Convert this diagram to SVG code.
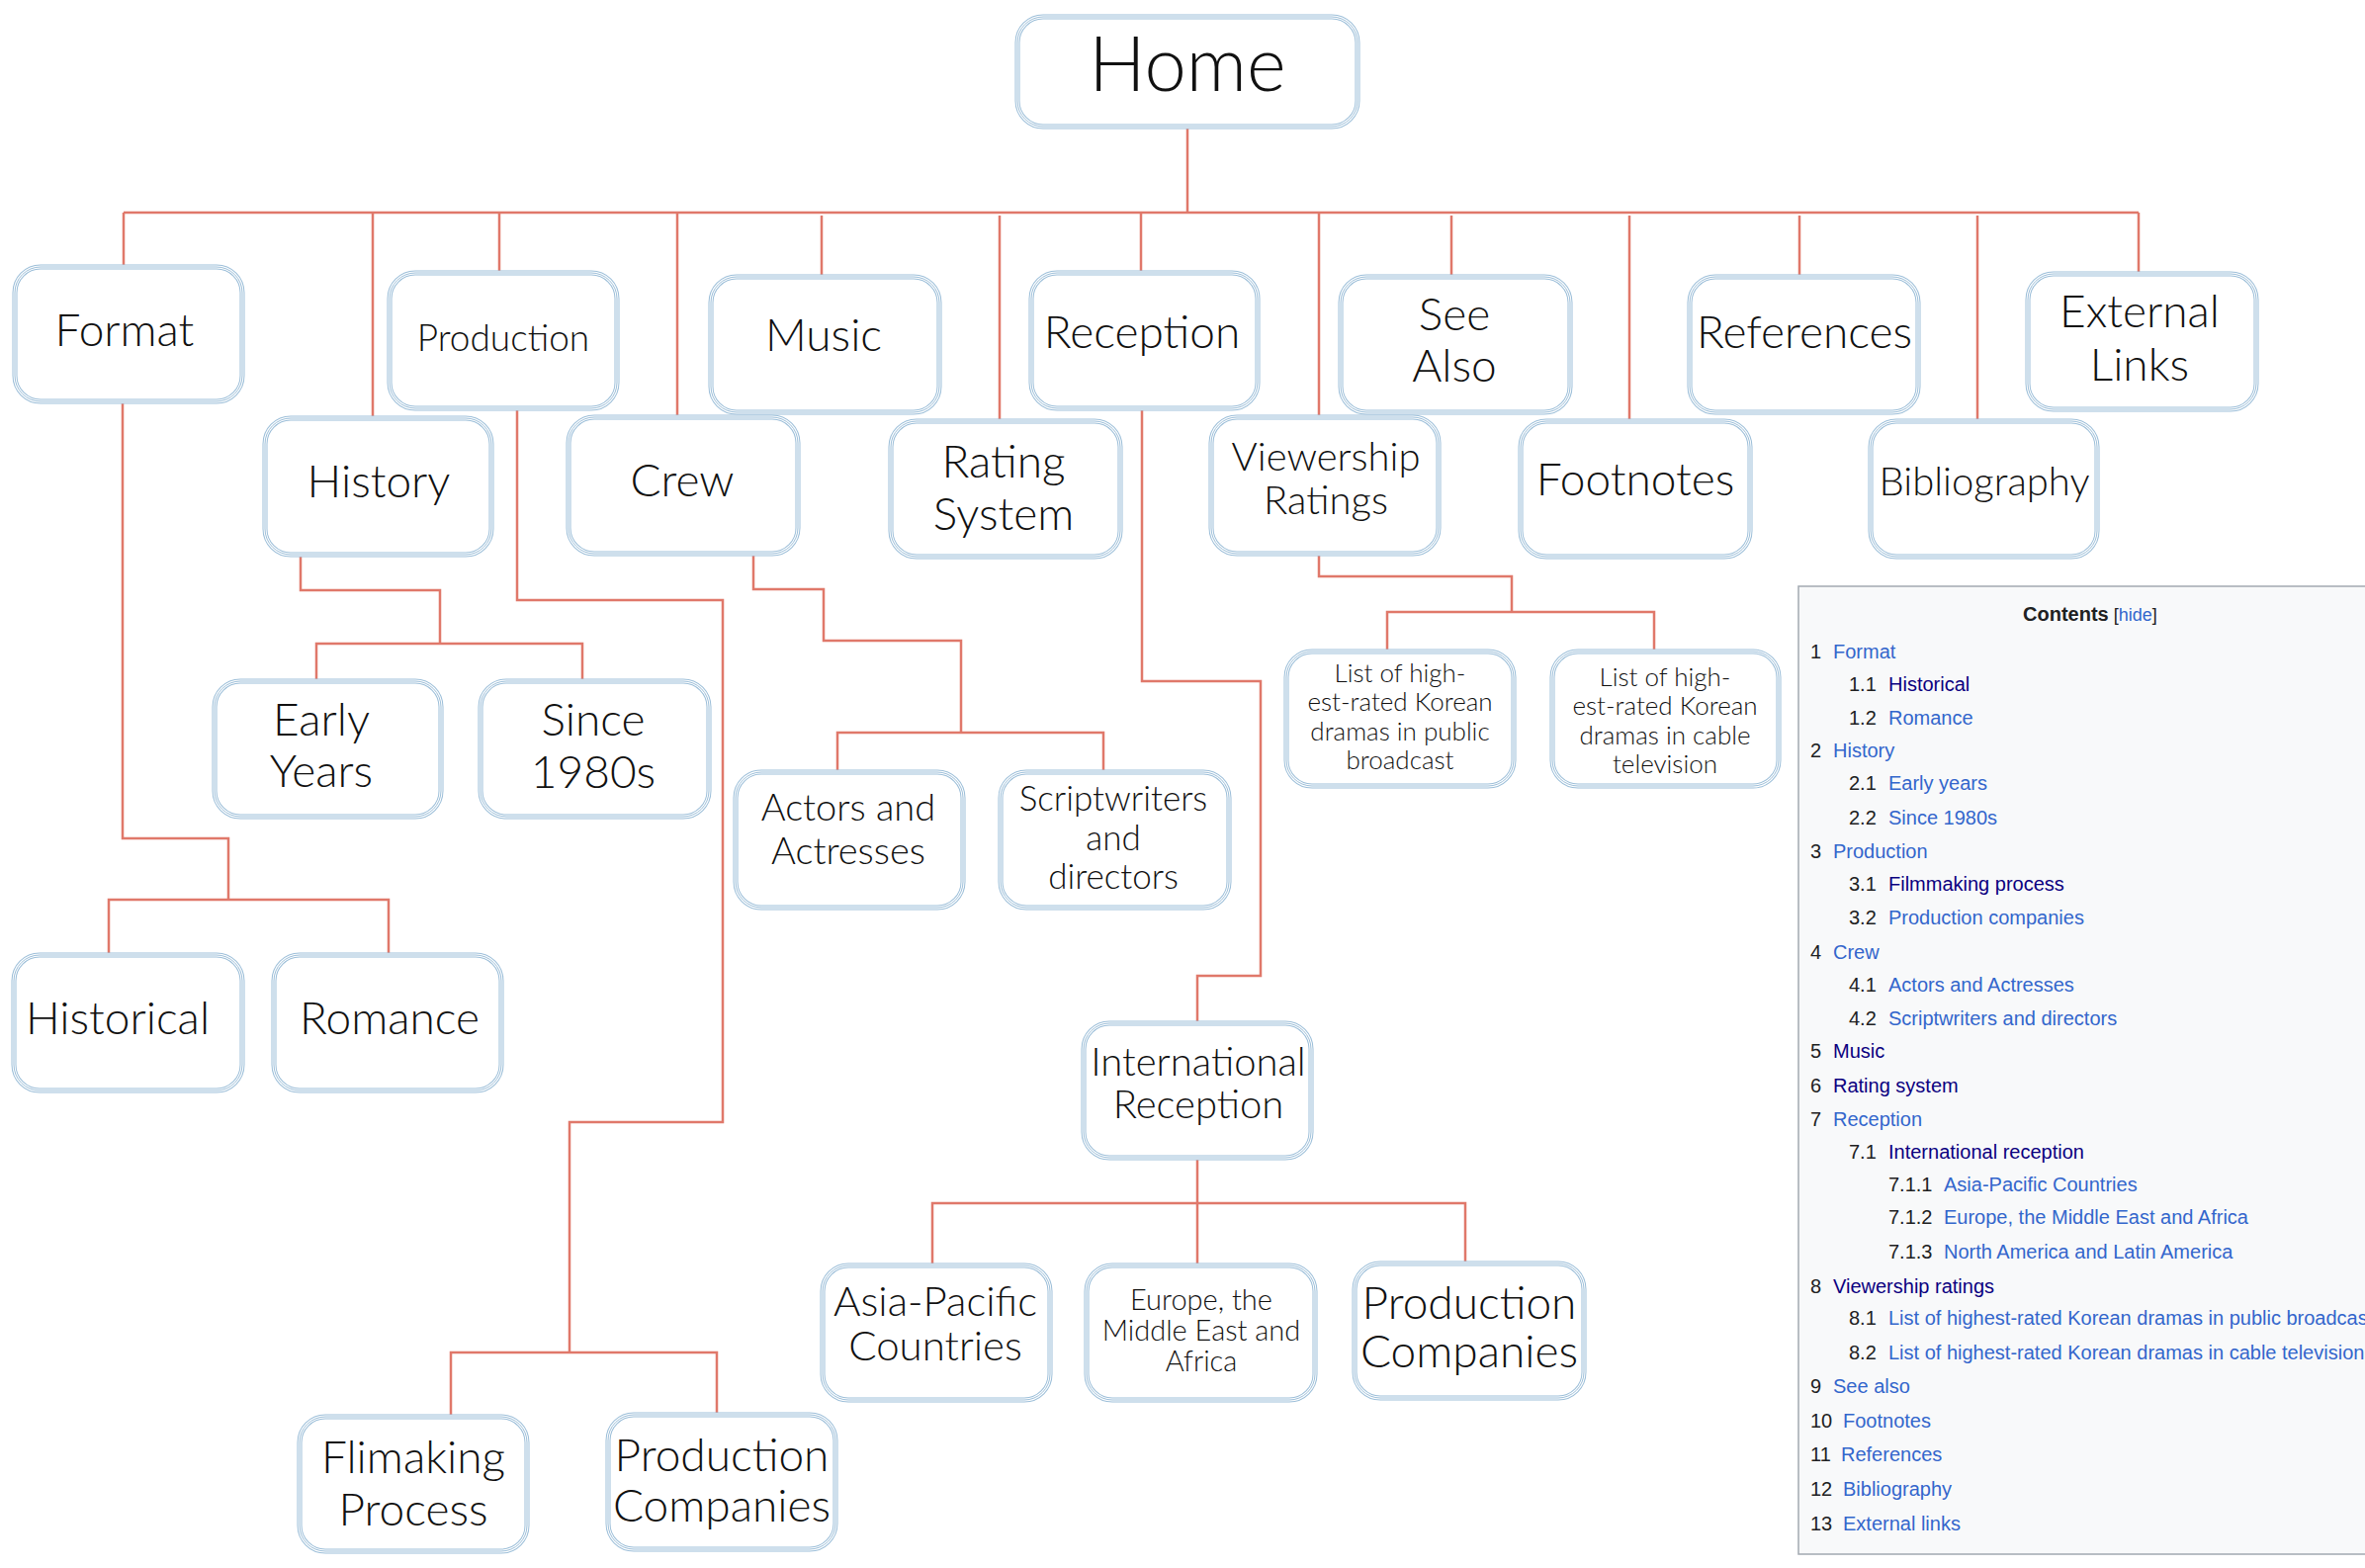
<svg xmlns="http://www.w3.org/2000/svg" width="2392" height="1586" viewBox="0 0 2392 1586">
<defs>
<style>
.b1{fill:#fff;stroke:#9dbfd9;stroke-width:5}
.b2{fill:none;stroke:#fff;stroke-width:3}
.b3{fill:none;stroke:#9dbfd9;stroke-width:1}
.t{font-family:"Lato Light",Lato,"Liberation Sans",sans-serif;font-weight:300;fill:#111;text-anchor:middle}
.c{fill:none;stroke:#e0786a;stroke-width:2.5}
.toc{font-family:"Liberation Sans",Arial,sans-serif;font-size:20px;fill:#202122}
.lk{fill:#3366cc}
.vs{fill:#0b0080}
</style>
</defs>
<rect width="2392" height="1586" fill="#fff"/>
<g id="connectors">
<path class="c" d="M1201 128V215M125 215H2163"/>
<path class="c" d="M125 215V270M377 215V423M505 215V276M685 215V422M831 218V280M1011 218V426M1154 215V276M1334 215V422M1468 218V280M1648 218V426M1820 218V280M2000 218V426M2163 215V277"/>
<path class="c" d="M124 406V848H231V910M110 966V910H393V966"/>
<path class="c" d="M304 561V597H445V651M320 689V651H589V689"/>
<path class="c" d="M523 413V607H731V1135H576V1368M456 1433V1368H725V1431"/>
<path class="c" d="M762 560V596H833V648H972V741M847 781V741H1116V781"/>
<path class="c" d="M1155 413V689H1275V987H1211V1035"/>
<path class="c" d="M1334 560V583H1529V619M1403 659V619H1673V659"/>
<path class="c" d="M1211 1171V1280M943 1280V1217H1482V1278"/>
</g>
<g id="home"><rect class="b1" x="1029" y="17" width="344" height="111" rx="26"/><rect class="b2" x="1029" y="17" width="344" height="111" rx="26"/><rect class="b3" x="1029" y="17" width="344" height="111" rx="26"/><text class="t" x="1201" y="92" font-size="76">Home</text></g>
<g id="format"><rect class="b1" x="15" y="270" width="230" height="136" rx="26"/><rect class="b2" x="15" y="270" width="230" height="136" rx="26"/><rect class="b3" x="15" y="270" width="230" height="136" rx="26"/><text class="t" x="126" y="350" font-size="46">Format</text></g>
<g id="production"><rect class="b1" x="394" y="276" width="230" height="137" rx="26"/><rect class="b2" x="394" y="276" width="230" height="137" rx="26"/><rect class="b3" x="394" y="276" width="230" height="137" rx="26"/><text class="t" x="509" y="355" font-size="37">Production</text></g>
<g id="music"><rect class="b1" x="719" y="280" width="231" height="137" rx="26"/><rect class="b2" x="719" y="280" width="231" height="137" rx="26"/><rect class="b3" x="719" y="280" width="231" height="137" rx="26"/><text class="t" x="833" y="355" font-size="46">Music</text></g>
<g id="reception"><rect class="b1" x="1043" y="276" width="229" height="137" rx="26"/><rect class="b2" x="1043" y="276" width="229" height="137" rx="26"/><rect class="b3" x="1043" y="276" width="229" height="137" rx="26"/><text class="t" x="1155" y="352" font-size="46">Reception</text></g>
<g id="see-also"><rect class="b1" x="1356" y="280" width="232" height="137" rx="26"/><rect class="b2" x="1356" y="280" width="232" height="137" rx="26"/><rect class="b3" x="1356" y="280" width="232" height="137" rx="26"/><text class="t" x="1471" y="334" font-size="46">See</text><text class="t" x="1471" y="386" font-size="46">Also</text></g>
<g id="references"><rect class="b1" x="1709" y="280" width="231" height="137" rx="26"/><rect class="b2" x="1709" y="280" width="231" height="137" rx="26"/><rect class="b3" x="1709" y="280" width="231" height="137" rx="26"/><text class="t" x="1825" y="352" font-size="46">References</text></g>
<g id="external-links"><rect class="b1" x="2051" y="277" width="231" height="137" rx="26"/><rect class="b2" x="2051" y="277" width="231" height="137" rx="26"/><rect class="b3" x="2051" y="277" width="231" height="137" rx="26"/><text class="t" x="2164" y="331" font-size="46">External</text><text class="t" x="2164" y="385" font-size="46">Links</text></g>
<g id="history"><rect class="b1" x="268" y="423" width="229" height="138" rx="26"/><rect class="b2" x="268" y="423" width="229" height="138" rx="26"/><rect class="b3" x="268" y="423" width="229" height="138" rx="26"/><text class="t" x="383" y="503" font-size="46">History</text></g>
<g id="crew"><rect class="b1" x="575" y="422" width="232" height="138" rx="26"/><rect class="b2" x="575" y="422" width="232" height="138" rx="26"/><rect class="b3" x="575" y="422" width="232" height="138" rx="26"/><text class="t" x="690" y="502" font-size="46">Crew</text></g>
<g id="rating-system"><rect class="b1" x="901" y="426" width="232" height="137" rx="26"/><rect class="b2" x="901" y="426" width="232" height="137" rx="26"/><rect class="b3" x="901" y="426" width="232" height="137" rx="26"/><text class="t" x="1015" y="483" font-size="46">Rating</text><text class="t" x="1015" y="536" font-size="46">System</text></g>
<g id="viewership-ratings"><rect class="b1" x="1225" y="422" width="230" height="138" rx="26"/><rect class="b2" x="1225" y="422" width="230" height="138" rx="26"/><rect class="b3" x="1225" y="422" width="230" height="138" rx="26"/><text class="t" x="1341" y="476" font-size="40">Viewership</text><text class="t" x="1341" y="520" font-size="40">Ratings</text></g>
<g id="footnotes"><rect class="b1" x="1538" y="426" width="232" height="137" rx="26"/><rect class="b2" x="1538" y="426" width="232" height="137" rx="26"/><rect class="b3" x="1538" y="426" width="232" height="137" rx="26"/><text class="t" x="1654" y="501" font-size="46">Footnotes</text></g>
<g id="bibliography"><rect class="b1" x="1892" y="426" width="229" height="137" rx="26"/><rect class="b2" x="1892" y="426" width="229" height="137" rx="26"/><rect class="b3" x="1892" y="426" width="229" height="137" rx="26"/><text class="t" x="2007" y="501" font-size="40">Bibliography</text></g>
<g id="early-years"><rect class="b1" x="217" y="689" width="229" height="137" rx="26"/><rect class="b2" x="217" y="689" width="229" height="137" rx="26"/><rect class="b3" x="217" y="689" width="229" height="137" rx="26"/><text class="t" x="325" y="744" font-size="46">Early</text><text class="t" x="325" y="796" font-size="46">Years</text></g>
<g id="since-1980s"><rect class="b1" x="486" y="689" width="231" height="137" rx="26"/><rect class="b2" x="486" y="689" width="231" height="137" rx="26"/><rect class="b3" x="486" y="689" width="231" height="137" rx="26"/><text class="t" x="600" y="744" font-size="46">Since</text><text class="t" x="600" y="797" font-size="46">1980s</text></g>
<g id="historical"><rect class="b1" x="14" y="966" width="231" height="137" rx="26"/><rect class="b2" x="14" y="966" width="231" height="137" rx="26"/><rect class="b3" x="14" y="966" width="231" height="137" rx="26"/><text class="t" x="119" y="1046" font-size="46">Historical</text></g>
<g id="romance"><rect class="b1" x="277" y="966" width="230" height="137" rx="26"/><rect class="b2" x="277" y="966" width="230" height="137" rx="26"/><rect class="b3" x="277" y="966" width="230" height="137" rx="26"/><text class="t" x="394" y="1046" font-size="46">Romance</text></g>
<g id="actors-and-actresses"><rect class="b1" x="744" y="781" width="230" height="137" rx="26"/><rect class="b2" x="744" y="781" width="230" height="137" rx="26"/><rect class="b3" x="744" y="781" width="230" height="137" rx="26"/><text class="t" x="858" y="830" font-size="38">Actors and</text><text class="t" x="858" y="874" font-size="38">Actresses</text></g>
<g id="scriptwriters-and-directors"><rect class="b1" x="1012" y="781" width="231" height="137" rx="26"/><rect class="b2" x="1012" y="781" width="231" height="137" rx="26"/><rect class="b3" x="1012" y="781" width="231" height="137" rx="26"/><text class="t" x="1126" y="820" font-size="35">Scriptwriters</text><text class="t" x="1126" y="860" font-size="35">and</text><text class="t" x="1126" y="899" font-size="35">directors</text></g>
<g id="list-public"><rect class="b1" x="1301" y="659" width="230" height="136" rx="26"/><rect class="b2" x="1301" y="659" width="230" height="136" rx="26"/><rect class="b3" x="1301" y="659" width="230" height="136" rx="26"/><text class="t" x="1416" y="690" font-size="26">List of high-</text><text class="t" x="1416" y="719" font-size="26">est-rated Korean</text><text class="t" x="1416" y="749" font-size="26">dramas in public</text><text class="t" x="1416" y="778" font-size="26">broadcast</text></g>
<g id="list-cable"><rect class="b1" x="1570" y="659" width="229" height="136" rx="26"/><rect class="b2" x="1570" y="659" width="229" height="136" rx="26"/><rect class="b3" x="1570" y="659" width="229" height="136" rx="26"/><text class="t" x="1684" y="694" font-size="26">List of high-</text><text class="t" x="1684" y="723" font-size="26">est-rated Korean</text><text class="t" x="1684" y="753" font-size="26">dramas in cable</text><text class="t" x="1684" y="782" font-size="26">television</text></g>
<g id="international-reception"><rect class="b1" x="1096" y="1035" width="230" height="136" rx="26"/><rect class="b2" x="1096" y="1035" width="230" height="136" rx="26"/><rect class="b3" x="1096" y="1035" width="230" height="136" rx="26"/><text class="t" x="1212" y="1088" font-size="40">International</text><text class="t" x="1212" y="1131" font-size="40">Reception</text></g>
<g id="asia-pacific"><rect class="b1" x="832" y="1280" width="230" height="136" rx="26"/><rect class="b2" x="832" y="1280" width="230" height="136" rx="26"/><rect class="b3" x="832" y="1280" width="230" height="136" rx="26"/><text class="t" x="946" y="1331" font-size="42">Asia-Pacific</text><text class="t" x="946" y="1376" font-size="42">Countries</text></g>
<g id="europe"><rect class="b1" x="1099" y="1280" width="231" height="136" rx="26"/><rect class="b2" x="1099" y="1280" width="231" height="136" rx="26"/><rect class="b3" x="1099" y="1280" width="231" height="136" rx="26"/><text class="t" x="1215" y="1325" font-size="29">Europe, the</text><text class="t" x="1215" y="1356" font-size="29">Middle East and</text><text class="t" x="1215" y="1387" font-size="29">Africa</text></g>
<g id="production-companies-intl"><rect class="b1" x="1370" y="1278" width="232" height="136" rx="26"/><rect class="b2" x="1370" y="1278" width="232" height="136" rx="26"/><rect class="b3" x="1370" y="1278" width="232" height="136" rx="26"/><text class="t" x="1486" y="1334" font-size="46">Production</text><text class="t" x="1486" y="1383" font-size="46">Companies</text></g>
<g id="flimaking-process"><rect class="b1" x="303" y="1433" width="230" height="136" rx="26"/><rect class="b2" x="303" y="1433" width="230" height="136" rx="26"/><rect class="b3" x="303" y="1433" width="230" height="136" rx="26"/><text class="t" x="418" y="1490" font-size="46">Flimaking</text><text class="t" x="418" y="1543" font-size="46">Process</text></g>
<g id="production-companies"><rect class="b1" x="615" y="1431" width="230" height="136" rx="26"/><rect class="b2" x="615" y="1431" width="230" height="136" rx="26"/><rect class="b3" x="615" y="1431" width="230" height="136" rx="26"/><text class="t" x="730" y="1488" font-size="46">Production</text><text class="t" x="730" y="1539" font-size="46">Companies</text></g>
<g id="contents">
<rect x="1819" y="593" width="600" height="979" fill="#f8f9fa" stroke="#a2a9b1" stroke-width="1.5"/>
<text class="toc" x="2046" y="628"><tspan font-weight="bold">Contents</tspan><tspan font-size="18"> [<tspan class="lk">hide</tspan>]</tspan></text>
<text class="toc" y="666"><tspan x="1831">1</tspan><tspan x="1854" class="lk">Format</tspan></text>
<text class="toc" y="699"><tspan x="1870">1.1</tspan><tspan x="1910" class="vs">Historical</tspan></text>
<text class="toc" y="733"><tspan x="1870">1.2</tspan><tspan x="1910" class="lk">Romance</tspan></text>
<text class="toc" y="766"><tspan x="1831">2</tspan><tspan x="1854" class="lk">History</tspan></text>
<text class="toc" y="799"><tspan x="1870">2.1</tspan><tspan x="1910" class="lk">Early years</tspan></text>
<text class="toc" y="834"><tspan x="1870">2.2</tspan><tspan x="1910" class="lk">Since 1980s</tspan></text>
<text class="toc" y="868"><tspan x="1831">3</tspan><tspan x="1854" class="lk">Production</tspan></text>
<text class="toc" y="901"><tspan x="1870">3.1</tspan><tspan x="1910" class="vs">Filmmaking process</tspan></text>
<text class="toc" y="935"><tspan x="1870">3.2</tspan><tspan x="1910" class="lk">Production companies</tspan></text>
<text class="toc" y="970"><tspan x="1831">4</tspan><tspan x="1854" class="lk">Crew</tspan></text>
<text class="toc" y="1003"><tspan x="1870">4.1</tspan><tspan x="1910" class="lk">Actors and Actresses</tspan></text>
<text class="toc" y="1037"><tspan x="1870">4.2</tspan><tspan x="1910" class="lk">Scriptwriters and directors</tspan></text>
<text class="toc" y="1070"><tspan x="1831">5</tspan><tspan x="1854" class="vs">Music</tspan></text>
<text class="toc" y="1105"><tspan x="1831">6</tspan><tspan x="1854" class="vs">Rating system</tspan></text>
<text class="toc" y="1139"><tspan x="1831">7</tspan><tspan x="1854" class="lk">Reception</tspan></text>
<text class="toc" y="1172"><tspan x="1870">7.1</tspan><tspan x="1910" class="vs">International reception</tspan></text>
<text class="toc" y="1205"><tspan x="1910">7.1.1</tspan><tspan x="1966" class="lk">Asia-Pacific Countries</tspan></text>
<text class="toc" y="1238"><tspan x="1910">7.1.2</tspan><tspan x="1966" class="lk">Europe, the Middle East and Africa</tspan></text>
<text class="toc" y="1273"><tspan x="1910">7.1.3</tspan><tspan x="1966" class="lk">North America and Latin America</tspan></text>
<text class="toc" y="1308"><tspan x="1831">8</tspan><tspan x="1854" class="vs">Viewership ratings</tspan></text>
<text class="toc" y="1340"><tspan x="1870">8.1</tspan><tspan x="1910" class="lk">List of highest-rated Korean dramas in public broadcast</tspan></text>
<text class="toc" y="1375"><tspan x="1870">8.2</tspan><tspan x="1910" class="lk">List of highest-rated Korean dramas in cable television</tspan></text>
<text class="toc" y="1409"><tspan x="1831">9</tspan><tspan x="1854" class="lk">See also</tspan></text>
<text class="toc" y="1444"><tspan x="1831">10</tspan><tspan x="1864" class="lk">Footnotes</tspan></text>
<text class="toc" y="1478"><tspan x="1831">11</tspan><tspan x="1862" class="lk">References</tspan></text>
<text class="toc" y="1513"><tspan x="1831">12</tspan><tspan x="1864" class="lk">Bibliography</tspan></text>
<text class="toc" y="1548"><tspan x="1831">13</tspan><tspan x="1864" class="lk">External links</tspan></text>
</g>
</svg>
